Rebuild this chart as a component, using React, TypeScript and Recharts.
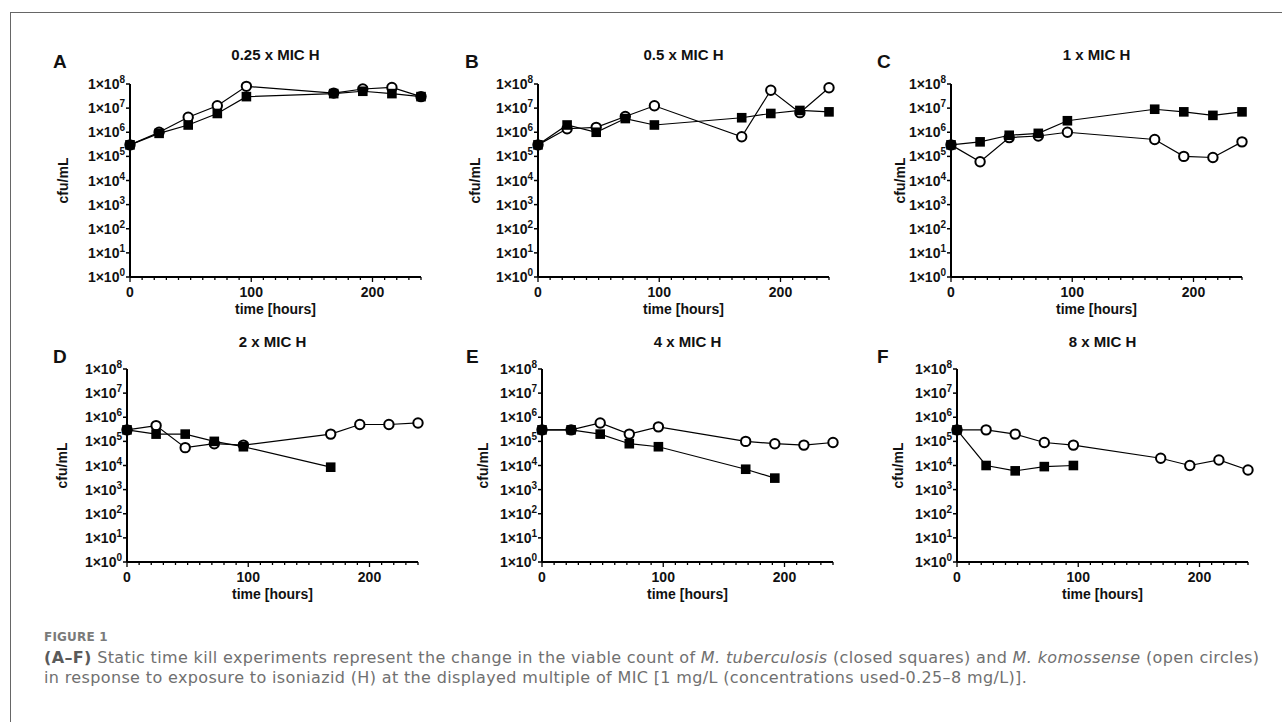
import React from 'react';
import { LineChart, Line, XAxis, YAxis } from 'recharts';

// sampling times (hours)
const times = [0, 24, 48, 72, 96, 168, 192, 216, 240];

const panelLetters = ['A', 'B', 'C', 'D', 'E', 'F'];
const panelTitles = ['0.25 x MIC H', '0.5 x MIC H', '1 x MIC H', '2 x MIC H', '4 x MIC H', '8 x MIC H'];

// M. tuberculosis (closed squares), cfu/mL
const tbA = [3e5, 9e5, 2e6, 6e6, 3e7, 4e7, 5e7, 4e7, 3e7];
const tbB = [3e5, 2e6, 1e6, 3.7e6, 2e6, 4e6, 6e6, 8e6, 7e6];
const tbC = [3e5, 4e5, 7.5e5, 9e5, 3e6, 9e6, 7e6, 5e6, 7e6];
const tbD = [3e5, 2e5, 2e5, 1e5, 6e4, 8.5e3, null, null, null];
const tbE = [3e5, 3e5, 2e5, 8e4, 6e4, 7e3, 3e3, null, null];
const tbF = [3e5, 1e4, 6e3, 9e3, 1e4, null, null, null, null];

// M. komossense (open circles), cfu/mL
const kmA = [3e5, 1e6, 4.2e6, 1.25e7, 8e7, 4.2e7, 6.2e7, 7.2e7, 3e7];
const kmB = [3e5, 1.4e6, 1.6e6, 4.5e6, 1.25e7, 6.5e5, 5.5e7, 6.5e6, 7e7];
const kmC = [3e5, 6e4, 6e5, 7e5, 1e6, 5e5, 1e5, 9e4, 4e5];
const kmD = [3e5, 4.5e5, 5.5e4, 8e4, 7e4, 2e5, 5e5, 5e5, 5.8e5];
const kmE = [3e5, 3e5, 5.8e5, 2e5, 4e5, 1e5, 8e4, 7e4, 9e4];
const kmF = [3e5, 3e5, 2e5, 9e4, 7e4, 2e4, 1e4, 1.7e4, 6.5e3];

const tbSeries = [tbA, tbB, tbC, tbD, tbE, tbF];
const kmSeries = [kmA, kmB, kmC, kmD, kmE, kmF];

const yTicks = [1, 10, 100, 1e3, 1e4, 1e5, 1e6, 1e7, 1e8];
const xTicks = [0, 10, 20, 30, 40, 50, 60, 70, 80, 90, 100, 110, 120, 130, 140, 150, 160, 170, 180, 190, 200, 210, 220, 230, 240];
const xLabelTicks = [0, 100, 200];

// layout
const plotLefts = [130, 538, 951, 127, 542, 957];
const plotTops = [84, 84, 84, 369, 369, 369];
const letterLefts = [53, 465, 877, 53, 466, 877];
const letterMids = [62, 62, 62, 357, 357, 357];
const titleMids = [55, 55, 55, 342, 342, 342];
const yLabelDist = [67, 63, 51, 65, 59, 59];
const PLOT_W = 291;
const PLOT_H = 193;
const AXIS_W = 120;
const TOP_M = 50;
const X_AXIS_H = 50;

const FONT = '"Liberation Sans", Arial, sans-serif';
const CAPTION_FONT = '"DejaVu Sans", sans-serif';

const YTick = (props: any) => {
  const { x, y, payload } = props;
  const exp = Math.round(Math.log10(payload.value));
  return (
    <g>
      <line x1={x - 4} x2={x} y1={y} y2={y} stroke="#000" strokeWidth={1.5} />
      <text x={x - 5} y={y + 5} textAnchor="end" fontFamily={FONT} fontWeight="bold" fontSize={14} fill="#111">
        <tspan>1×10</tspan>
        <tspan fontSize={10} dy={-6}>{exp}</tspan>
      </text>
    </g>
  );
};

const XTick = (props: any) => {
  const { x, y, payload } = props;
  const major = xLabelTicks.includes(payload.value);
  return (
    <g>
      <line x1={x} x2={x} y1={y} y2={y + (major ? 5 : 3)} stroke="#000" strokeWidth={1.3} />
      {major && (
        <text x={x} y={y + 20} textAnchor="middle" fontFamily={FONT} fontWeight="bold" fontSize={14} fill="#111">
          {payload.value}
        </text>
      )}
    </g>
  );
};

const SquareDot = (props: any) => {
  const { cx, cy, value } = props;
  if (value == null || cy == null || cx == null) return null;
  return <rect key={`s-${cx}`} x={cx - 4.8} y={cy - 4.8} width={9.6} height={9.6} fill="#000" />;
};

const CircleDot = (props: any) => {
  const { cx, cy, value } = props;
  if (value == null || cy == null || cx == null) return null;
  return <circle key={`c-${cx}`} cx={cx} cy={cy} r={4.7} fill="#fff" stroke="#000" strokeWidth={2} />;
};

const Panel = ({ index }: { index: number }) => {
  const data = times.map((t, i) => ({ t, tb: tbSeries[index][i], km: kmSeries[index][i] }));
  const left = plotLefts[index];
  const top = plotTops[index];
  return (
    <>
      <div
        style={{
          position: 'absolute',
          left: letterLefts[index],
          top: letterMids[index] - 10,
          fontFamily: FONT,
          fontWeight: 'bold',
          fontSize: 19,
          lineHeight: '20px',
          color: '#111',
        }}
      >
        {panelLetters[index]}
      </div>
      <div
        style={{
          position: 'absolute',
          left: left,
          width: PLOT_W,
          top: titleMids[index] - 9,
          textAlign: 'center',
          fontFamily: FONT,
          fontWeight: 'bold',
          fontSize: 15,
          lineHeight: '18px',
          color: '#111',
        }}
      >
        {panelTitles[index]}
      </div>
      <div style={{ position: 'absolute', left: left - AXIS_W, top: top - TOP_M }}>
        <LineChart
          width={AXIS_W + PLOT_W + 12}
          height={TOP_M + PLOT_H + X_AXIS_H}
          data={data}
          margin={{ top: TOP_M, right: 12, bottom: 0, left: 0 }}
        >
          <XAxis
            dataKey="t"
            type="number"
            domain={[0, 240]}
            ticks={xTicks}
            interval={0}
            tickLine={false}
            tickSize={0}
            tickMargin={0}
            tick={<XTick />}
            height={X_AXIS_H}
            axisLine={{ stroke: '#000', strokeWidth: 2 }}
            label={{
              value: 'time [hours]',
              position: 'insideBottom',
              offset: 13,
              fill: '#111',
              fontFamily: FONT,
              fontWeight: 'bold',
              fontSize: 14,
            }}
          />
          <YAxis
            type="number"
            scale="log"
            domain={[1, 1e8]}
            ticks={yTicks}
            interval={0}
            width={AXIS_W}
            tickLine={false}
            tickSize={0}
            tickMargin={0}
            tick={<YTick />}
            axisLine={{ stroke: '#000', strokeWidth: 2 }}
            label={{
              value: 'cfu/mL',
              angle: -90,
              position: 'insideLeft',
              offset: AXIS_W - yLabelDist[index],
              style: { textAnchor: 'middle' },
              fill: '#111',
              fontFamily: FONT,
              fontWeight: 'bold',
              fontSize: 14,
            }}
          />
          <Line
            dataKey="km"
            type="linear"
            stroke="#000"
            strokeWidth={1.2}
            dot={<CircleDot />}
            activeDot={false}
            isAnimationActive={false}
          />
          <Line
            dataKey="tb"
            type="linear"
            stroke="#000"
            strokeWidth={1.2}
            dot={<SquareDot />}
            activeDot={false}
            isAnimationActive={false}
          />
        </LineChart>
      </div>
    </>
  );
};

export default function App() {
  return (
    <div
      style={{
        position: 'absolute',
        left: 0,
        top: 0,
        width: 1282,
        height: 722,
        background: '#fff',
        overflow: 'hidden',
      }}
    >
      <div
        style={{
          position: 'absolute',
          left: 10,
          top: 12,
          width: 1280,
          height: 720,
          borderTop: '1px solid #666',
          borderLeft: '1px solid #666',
        }}
      />
      {[0, 1, 2, 3, 4, 5].map((i) => (
        <Panel key={i} index={i} />
      ))}
      <div style={{ position: 'absolute', left: 44, top: 629, fontFamily: CAPTION_FONT, color: '#707070' }}>
        <div style={{ fontSize: 12, fontWeight: 'bold', lineHeight: '16px', letterSpacing: 0.2, color: '#7a7a7a' }}>
          FIGURE 1
        </div>
        <div style={{ fontSize: 16, lineHeight: '20px', letterSpacing: 0.36, marginTop: 3, whiteSpace: 'nowrap' }}>
          <b style={{ color: '#5a5a5a' }}>(A–F)</b> Static time kill experiments represent the change in the viable count of{' '}
          <i>M. tuberculosis</i> (closed squares) and <i>M. komossense</i> (open circles)
          <br />
          in response to exposure to isoniazid (H) at the displayed multiple of MIC [1 mg/L (concentrations used-0.25–8 mg/L)].
        </div>
      </div>
    </div>
  );
}
